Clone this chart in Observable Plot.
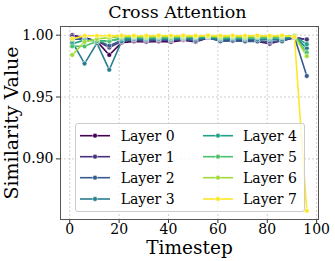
<!DOCTYPE html>
<html>
<head>
<meta charset="utf-8">
<script src="https://cdn.jsdelivr.net/npm/d3@7"></script>
<script src="https://cdn.jsdelivr.net/npm/@observablehq/plot@0.6"></script>
<style>
  body { margin: 0; background: #fff; }
  #wrap { position: relative; width: 335px; height: 261px; font-family: "DejaVu Serif", serif; }
  #legend { position: absolute; left: 75px; top: 123px; width: 230px; height: 89px;
            background: rgba(255,255,255,0.8); border: 1px solid #cccccc; border-radius: 3px; box-sizing: border-box; }
</style>
</head>
<body>
<div id="wrap"></div>
<script>
const timesteps = [1, 6, 11, 16, 21, 26, 31, 36, 41, 46, 51, 56, 61, 66, 71, 76, 81, 86, 91, 96];
const layers = ["Layer 0", "Layer 1", "Layer 2", "Layer 3", "Layer 4", "Layer 5", "Layer 6", "Layer 7"];
const colors = ["#440154", "#46327e", "#365c8d", "#277f8e", "#1fa187", "#4ac16d", "#a0da39", "#fde725"];
const layer0 = [1.000, 0.998, 0.995, 0.984, 0.994, 0.995, 0.9945, 0.995, 0.9945, 0.996, 0.9945, 0.998, 0.996, 0.9955, 0.996, 0.995, 0.993, 0.996, 0.998, 0.9965];
const layer1 = [0.999, 0.997, 0.9955, 0.990, 0.995, 0.996, 0.995, 0.996, 0.9955, 0.9965, 0.995, 0.998, 0.9955, 0.996, 0.995, 0.9955, 0.994, 0.9955, 0.998, 0.9965];
const layer2 = [0.997, 0.9965, 0.996, 0.9915, 0.996, 0.9965, 0.996, 0.9965, 0.996, 0.997, 0.9955, 0.998, 0.995, 0.9955, 0.995, 0.995, 0.995, 0.995, 0.9985, 0.967];
const layer3 = [0.9945, 0.977, 0.9935, 0.972, 0.995, 0.997, 0.9965, 0.997, 0.9965, 0.9975, 0.997, 0.998, 0.9965, 0.997, 0.9965, 0.9965, 0.9965, 0.9965, 0.999, 0.9895];
const layer4 = [0.993, 0.996, 0.9955, 0.9955, 0.997, 0.998, 0.9975, 0.998, 0.9975, 0.998, 0.998, 0.9985, 0.9975, 0.998, 0.9975, 0.998, 0.9975, 0.998, 0.999, 0.9927];
const layer5 = [0.991, 0.991, 0.995, 0.995, 0.998, 0.9985, 0.998, 0.9985, 0.998, 0.9985, 0.9985, 0.999, 0.998, 0.9985, 0.998, 0.9985, 0.998, 0.9985, 0.9995, 0.986];
const layer6 = [0.984, 0.9945, 0.997, 0.998, 0.999, 0.999, 0.9985, 0.999, 0.999, 0.999, 0.999, 0.9993, 0.9985, 0.999, 0.9985, 0.999, 0.999, 0.999, 0.9995, 0.983];
const layer7 = [0.997, 0.9995, 0.9995, 0.9995, 0.9997, 0.9995, 0.9995, 0.9997, 0.9995, 0.9997, 0.9995, 0.9997, 0.9995, 0.9997, 0.9995, 0.9997, 0.9995, 0.9997, 0.9985, 0.858];
const xTicks = [0, 20, 40, 60, 80, 100];
const yTicks = [0.90, 0.95, 1.00];

const series = [layer0, layer1, layer2, layer3, layer4, layer5, layer6, layer7];
const data = [];
series.forEach((vals, i) => vals.forEach((v, j) => data.push({layer: layers[i], t: timesteps[j], v})));

const chart = Plot.plot({
  width: 335,
  height: 261,
  marginLeft: 60,
  marginRight: 17,
  marginTop: 26,
  marginBottom: 42,
  style: {fontFamily: "DejaVu Serif", fontSize: "14px", color: "#000", background: "#fff"},
  x: {domain: [-3.75, 100.75]},
  y: {domain: [0.851, 1.007]},
  color: {domain: layers, range: colors},
  marks: [
    Plot.gridX(xTicks, {stroke: "#b0b0b0", strokeOpacity: 0.6, strokeDasharray: "2,2"}),
    Plot.gridY(yTicks, {stroke: "#b0b0b0", strokeOpacity: 0.6, strokeDasharray: "2,2"}),
    Plot.axisX(xTicks, {tickSize: 4, tickPadding: 1, fontSize: 14, label: null, stroke: "#333"}),
    Plot.axisY(yTicks, {tickSize: 4, tickPadding: 3, fontSize: 14, label: null, tickFormat: d3.format(".2f"), stroke: "#333"}),
    Plot.line(data, {x: "t", y: "v", z: "layer", stroke: "layer", strokeWidth: 1.6}),
    Plot.dot(data, {x: "t", y: "v", fill: "layer", r: 2.4, stroke: "white", strokeWidth: 0.5}),
    Plot.frame({stroke: "#555555", strokeWidth: 1}),
    Plot.text(["Cross Attention"], {frameAnchor: "top", dx: -12, dy: -9, lineAnchor: "bottom", fontSize: 17.5, fill: "#000"}),
    Plot.text(["Timestep"], {frameAnchor: "bottom", dy: 34, lineAnchor: "bottom", fontSize: 18.5, fill: "#000"}),
    Plot.text(["Similarity Value"], {frameAnchor: "left", dx: -49, rotate: -90, textAnchor: "middle", lineAnchor: "middle", fontSize: 19, fill: "#000"})
  ]
});
const wrap = document.getElementById("wrap");
wrap.appendChild(chart);

// legend
const lg = document.createElement("div");
lg.id = "legend";
const ns = "http://www.w3.org/2000/svg";
const svg = document.createElementNS(ns, "svg");
svg.setAttribute("width", 230); svg.setAttribute("height", 89);
svg.style.position = "absolute"; svg.style.left = "-1px"; svg.style.top = "-1px";
const rowY = [12.7, 33.7, 54.7, 76];
layers.forEach((name, i) => {
  const col = Math.floor(i / 4), row = i % 4;
  const hx = col === 0 ? 5 : 128;
  const tx = col === 0 ? 45.7 : 168;
  const y = rowY[row];
  const ln = document.createElementNS(ns, "line");
  ln.setAttribute("x1", hx); ln.setAttribute("x2", hx + 30);
  ln.setAttribute("y1", y); ln.setAttribute("y2", y);
  ln.setAttribute("stroke", colors[i]); ln.setAttribute("stroke-width", 1.6);
  svg.appendChild(ln);
  const c = document.createElementNS(ns, "circle");
  c.setAttribute("cx", hx + 15); c.setAttribute("cy", y); c.setAttribute("r", 2.4);
  c.setAttribute("fill", colors[i]); c.setAttribute("stroke", "white"); c.setAttribute("stroke-width", 0.5);
  svg.appendChild(c);
  const t = document.createElementNS(ns, "text");
  t.setAttribute("x", tx); t.setAttribute("y", y); t.setAttribute("dy", "0.35em");
  t.setAttribute("font-family", "DejaVu Serif"); t.setAttribute("font-size", 14);
  t.textContent = name;
  svg.appendChild(t);
});
lg.appendChild(svg);
wrap.appendChild(lg);
</script>
</body>
</html>
